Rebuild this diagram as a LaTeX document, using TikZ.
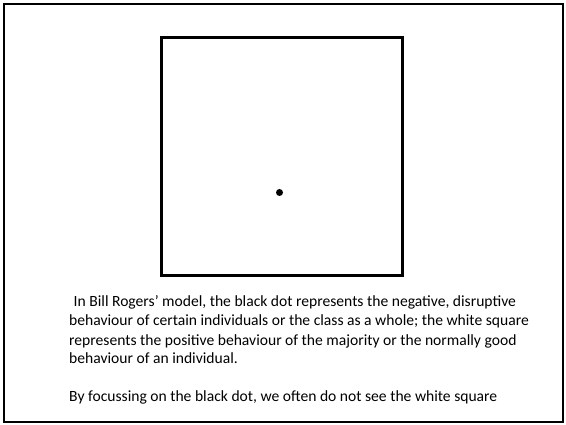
\documentclass[tikz,border=0pt]{standalone}
\usepackage{fontspec}
\setmainfont{Carlito}
\begin{document}
\begin{tikzpicture}[x=1pt,y=-1pt,
  frame/.style={draw=black,line width=2pt},
  sq/.style={draw=black,line width=3pt},
  txt/.style={anchor=base west,inner sep=0pt,font=\fontsize{15.6}{18}\selectfont}]
\useasboundingbox (0,0) rectangle (566,425);
\fill[white] (0,0) rectangle (566,425);
\draw[frame] (4,4) rectangle (563,422);
\draw[sq] (161,38) rectangle (402,276);
\fill[black] (279.5,192.5) circle (3.5);
\node[txt] (l1) at (70,307) {\ In Bill Rogers’ model, the black dot represents the negative, disruptive};
\node[txt] (l2) at (69,326) {behaviour of certain individuals or the class as a whole; the white square};
\node[txt] (l3) at (69,345) {represents the positive behaviour of the majority or the normally good};
\node[txt] (l4) at (69,364) {behaviour of an individual.};
\node[txt] (l5) at (69,402) {By focussing on the black dot, we often do not see the white square};
\end{tikzpicture}
\end{document}
